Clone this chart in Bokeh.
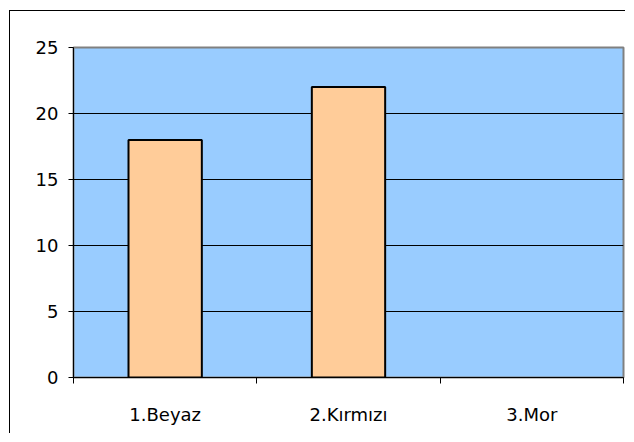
from bokeh.plotting import figure
from bokeh.models import Range1d, FixedTicker, ColumnDataSource
from bokeh.embed import file_html
from bokeh.resources import INLINE

categories = ["1.Beyaz", "2.Kırmızı", "3.Mor"]
values = [18, 22, 0]
y_ticks = [0, 5, 10, 15, 20, 25]

xs = [i + 0.5 for i in range(len(categories))]
edge_colors = ["black" if v > 0 else None for v in values]
src = ColumnDataSource(dict(x=xs, top=values, name=categories, lc=edge_colors))

FONT = "DejaVu Sans"
FS = "18px"

p = figure(width=616, height=423, output_backend="svg", toolbar_location=None,
           x_range=Range1d(0, len(categories)), y_range=Range1d(0, 25),
           min_border_left=63, min_border_right=3, min_border_top=36, min_border_bottom=57)
p.styles = {"margin-left": "9px", "margin-top": "10px",
            "border-left": "1px solid black", "border-top": "1px solid black"}

p.background_fill_color = "#99CCFF"
p.border_fill_color = "white"
p.outline_line_color = "#808080"
p.outline_line_width = 2

p.vbar(x="x", top="top", bottom=0, width=0.4, source=src,
       fill_color="#FFCC99", line_color="lc", line_width=2)

p.xgrid.visible = False
p.ygrid.ticker = FixedTicker(ticks=y_ticks)
p.ygrid.grid_line_color = "black"
p.ygrid.grid_line_width = 1

xa = p.xaxis[0]
xa.ticker = FixedTicker(ticks=xs, minor_ticks=list(range(len(categories) + 1)))
xa.major_label_overrides = {x: c for x, c in zip(xs, categories)}
xa.major_tick_out = 0
xa.major_tick_in = 0
xa.minor_tick_out = 6
xa.minor_tick_in = 0
xa.minor_tick_line_color = "black"
xa.axis_line_color = "black"
xa.axis_line_width = 1
xa.major_label_text_font = FONT
xa.major_label_text_font_size = FS
xa.major_label_text_color = "black"
xa.major_label_standoff = 20

ya = p.yaxis[0]
ya.ticker = FixedTicker(ticks=y_ticks)
ya.major_tick_out = 5
ya.major_tick_in = 0
ya.minor_tick_out = 0
ya.minor_tick_in = 0
ya.axis_line_color = "black"
ya.axis_line_width = 1
ya.major_label_text_font = FONT
ya.major_label_text_font_size = FS
ya.major_label_text_color = "black"
ya.major_label_standoff = 10

open("out.html", "w").write(file_html(p, INLINE))
